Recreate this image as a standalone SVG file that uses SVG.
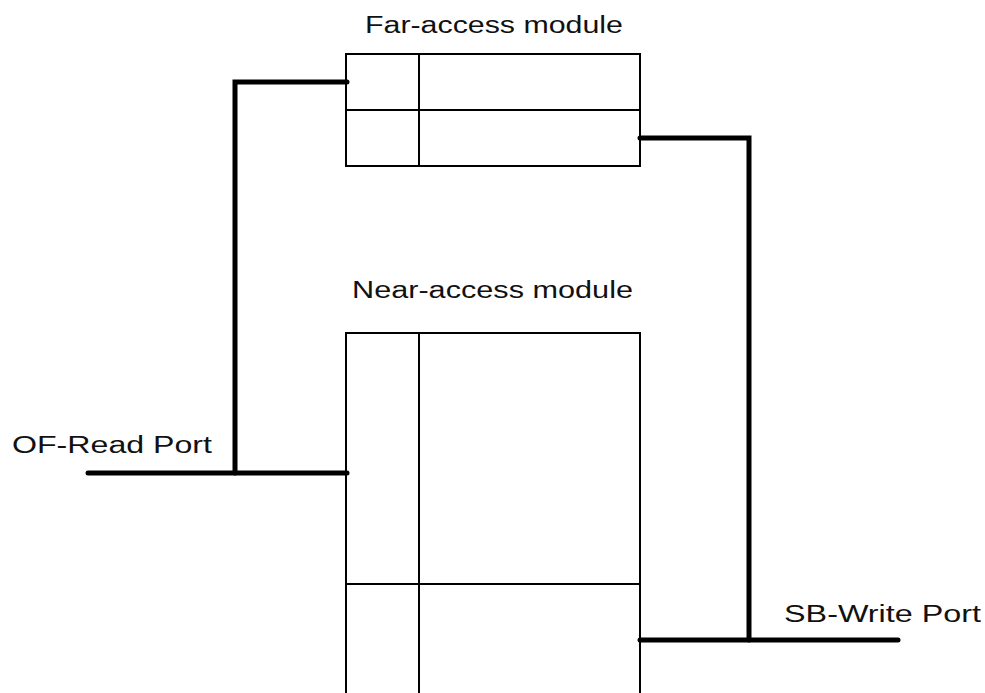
<svg xmlns="http://www.w3.org/2000/svg" width="985" height="693" viewBox="0 0 985 693">
<style>
.box{fill:none;stroke:#000;stroke-width:2}
.thin{stroke:#000;stroke-width:2;fill:none}
.wire{stroke:#000;stroke-width:5;fill:none;stroke-linecap:round;stroke-linejoin:miter}
.lbl{font-family:"Liberation Sans",Arial,sans-serif;font-size:23px;fill:#111}
</style>
<rect width="985" height="693" fill="#fff"/>
<g id="far-access-module">
<rect class="box" x="346" y="54" width="294" height="112"/>
<line class="thin" x1="419" y1="54" x2="419" y2="166"/>
<line class="thin" x1="346" y1="110" x2="640" y2="110"/>
<text class="lbl" x="365" y="33" textLength="258" lengthAdjust="spacingAndGlyphs">Far-access module</text>
</g>
<g id="near-access-module">
<path class="box" d="M346,700 V333 H640 V700"/>
<line class="thin" x1="419" y1="333" x2="419" y2="700"/>
<line class="thin" x1="346" y1="584" x2="640" y2="584"/>
<text class="lbl" x="352" y="298" textLength="281" lengthAdjust="spacingAndGlyphs">Near-access module</text>
</g>
<g id="of-read-port">
<text class="lbl" x="12" y="453" textLength="200" lengthAdjust="spacingAndGlyphs">OF-Read Port</text>
</g>
<g id="sb-write-port">
<text class="lbl" x="784" y="622" textLength="197" lengthAdjust="spacingAndGlyphs">SB-Write Port</text>
</g>
<g id="connectors">
<path class="wire" d="M347,82 H235 V473"/>
<path class="wire" d="M88,473 H347"/>
<path class="wire" d="M640,138 H749 V640"/>
<path class="wire" d="M640,640 H898"/>
</g>
</svg>
